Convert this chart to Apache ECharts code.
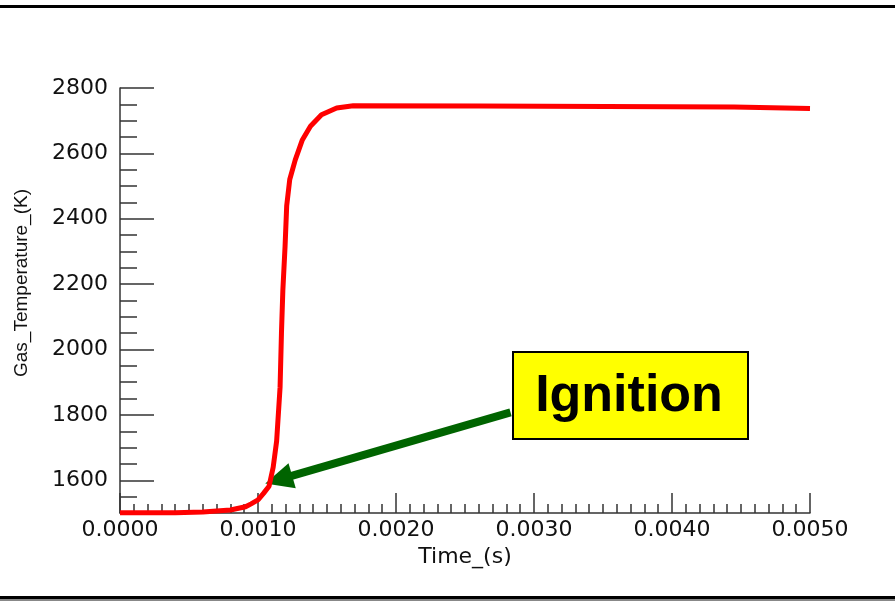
<!DOCTYPE html>
<html>
<head>
<meta charset="utf-8">
<script src="https://cdn.jsdelivr.net/npm/echarts@6/dist/echarts.min.js"></script>
<style>
  html, body { margin: 0; padding: 0; background: #fff; }
  #chart { width: 895px; height: 601px; }
</style>
</head>
<body>
<div id="chart"></div>
<script>
// Gas temperature vs time
const timeS = [0, 0.0004, 0.0006, 0.0008, 0.00091, 0.00095, 0.001, 0.00104, 0.00108, 0.00111,
  0.001135, 0.00116, 0.00117, 0.00118, 0.001196, 0.001208, 0.00123, 0.00127, 0.00132, 0.00138,
  0.00146, 0.00157, 0.00169, 0.0026, 0.0026, 0.00445, 0.00445, 0.005];
const gasTempK = [1501, 1501, 1503, 1509, 1519, 1528, 1540, 1560, 1582, 1640,
  1720, 1885, 2050, 2180, 2315, 2440, 2520, 2580, 2640, 2683,
  2718, 2739, 2746, 2745, 2742, 2742, 2737, 2737];

const yMajorTicks = [1600, 1800, 2000, 2200, 2400, 2600, 2800];
const xMajorStep = 0.001;

// arrow of the "Ignition" note, in data units (end = centre of the arrow head)
const arrowFrom = [0.00283, 1808];
const arrowTo = [0.00115, 1602];

// minor y ticks every 50 that are not on a major tick
const yMinorTicks = [];
for (let v = 1550; v < 2800; v += 50) {
  if (v % 200 !== 0) yMinorTicks.push(v);
}

const chart = echarts.init(document.getElementById('chart'));
const axisColor = '#333';
const font = 'DejaVu Sans';

chart.setOption({
  animation: false,
  backgroundColor: '#fff',
  grid: { left: 120, right: 85, top: 88, bottom: 88 },
  xAxis: {
    type: 'value',
    min: 0,
    max: 0.005,
    interval: xMajorStep,
    name: 'Time_(s)',
    nameLocation: 'middle',
    nameGap: 32,
    nameTextStyle: { fontFamily: font, fontSize: 22, color: '#111' },
    axisLine: { show: true, lineStyle: { color: axisColor, width: 1.5 } },
    axisTick: { show: true, inside: true, length: 20, lineStyle: { color: axisColor, width: 1.5 } },
    minorTick: { show: true, splitNumber: 10, length: 9, lineStyle: { color: axisColor, width: 1.5 } },
    axisLabel: {
      fontFamily: font, fontSize: 22, color: '#111', margin: 6,
      formatter: v => v.toFixed(4)
    },
    splitLine: { show: false }
  },
  yAxis: [
    {
      type: 'value',
      min: 1500,
      max: 2800,
      axisLine: { show: true, lineStyle: { color: axisColor, width: 1.5 } },
      axisTick: { show: true, inside: true, length: 34, customValues: yMajorTicks,
        lineStyle: { color: axisColor, width: 1.5 } },
      axisLabel: { fontFamily: font, fontSize: 22, color: '#111', margin: 12,
        customValues: yMajorTicks, formatter: v => String(v) },
      splitLine: { show: false }
    },
    {
      type: 'value',
      min: 1500,
      max: 2800,
      position: 'left',
      axisLine: { show: false },
      axisTick: { show: true, inside: true, length: 17, customValues: yMinorTicks,
        lineStyle: { color: axisColor, width: 1.5 } },
      axisLabel: { show: false },
      splitLine: { show: false }
    }
  ],
  series: [
    {
      type: 'line',
      data: timeS.map((t, i) => [t, gasTempK[i]]),
      showSymbol: false,
      clip: false,
      lineStyle: { color: '#ff0000', width: 5 },
      z: 5,
      markLine: {
        silent: true,
        symbol: ['none', 'triangle'],
        symbolSize: [26, 28],
        label: { show: false },
        lineStyle: { color: '#006400', width: 8, type: 'solid' },
        data: [[{ coord: arrowFrom }, { coord: arrowTo }]]
      }
    }
  ],
  graphic: [
    { type: 'rect', shape: { x: -5, y: 5, width: 905, height: 3 }, style: { fill: '#000' } },
    { type: 'rect', shape: { x: -5, y: 596, width: 905, height: 3 }, style: { fill: '#000' } },
    { type: 'rect', shape: { x: -5, y: 599, width: 905, height: 2 }, style: { fill: '#888' } },
    {
      type: 'text', x: 22, y: 283, rotation: Math.PI / 2,
      style: { text: 'Gas_Temperature_(K)', font: '19px "Liberation Sans"', fill: '#111',
        align: 'center', verticalAlign: 'middle' }
    },
    {
      type: 'rect', z: 20,
      shape: { x: 513, y: 352, width: 235, height: 87 },
      style: { fill: '#ffff00', stroke: '#000', lineWidth: 2 }
    },
    {
      type: 'text', z: 21, x: 629, y: 397,
      style: { text: 'Ignition', font: 'bold 52px "Liberation Sans"', fill: '#000',
        align: 'center', verticalAlign: 'middle' }
    }
  ]
});
</script>
</body>
</html>
